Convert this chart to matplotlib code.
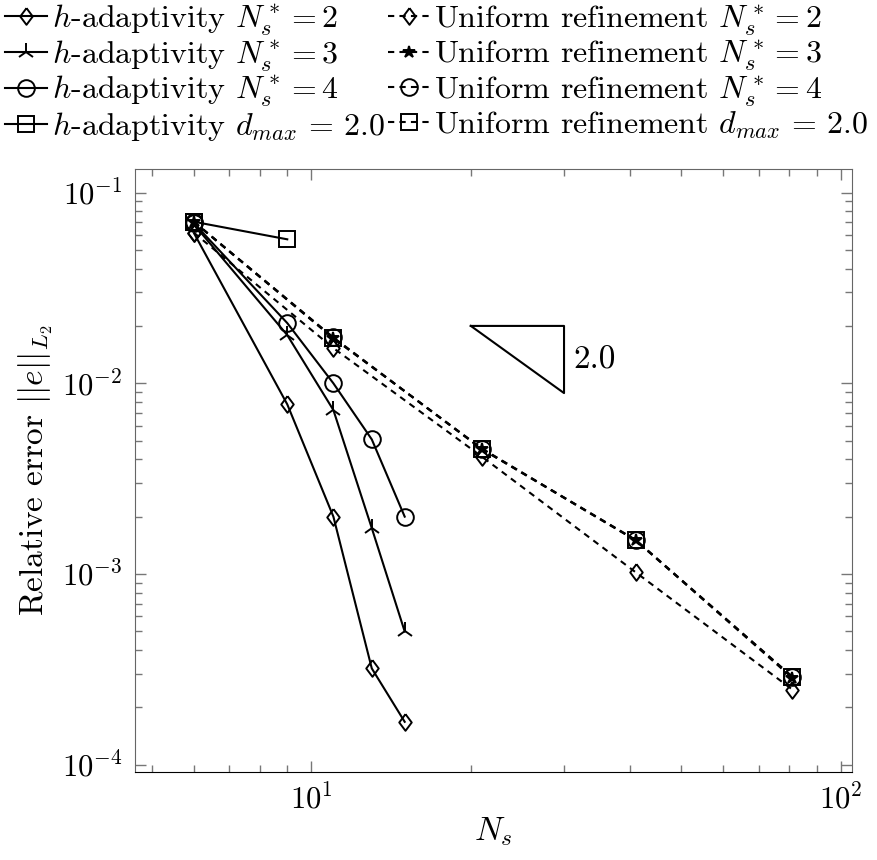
import matplotlib; matplotlib.use("Agg")
import matplotlib.pyplot as plt

plt.rcParams["font.family"] = "serif"
plt.rcParams["font.serif"] = ["cmr10"]
plt.rcParams["mathtext.fontset"] = "cm"
plt.rcParams["axes.formatter.use_mathtext"] = True

# h-adaptivity runs
ad_ns = {
    2: [6, 9, 11, 13, 15],
    3: [6, 9, 11, 13, 15],
    4: [6, 9, 11, 13, 15],
    "d": [6, 9],
}
ad_err = {
    2: [0.0612, 0.00776, 0.0020, 0.00032, 0.000168],
    3: [0.068, 0.0179, 0.00724, 0.00174, 0.0005],
    4: [0.069, 0.0207, 0.0100, 0.00508, 0.0020],
    "d": [0.0703, 0.0569],
}
# uniform refinement runs
un_ns = [6, 11, 21, 41, 81]
un_err = {
    2: [0.0615, 0.0153, 0.00412, 0.00102, 0.000248],
    3: [0.0700, 0.0172, 0.00455, 0.00150, 0.000285],
    4: [0.0702, 0.0174, 0.00452, 0.00151, 0.000288],
    "d": [0.0703, 0.0173, 0.00451, 0.00150, 0.00029],
}
keys = [2, 3, 4, "d"]
names = {2: r"$N_s^* = 2$", 3: r"$N_s^* = 3$", 4: r"$N_s^* = 4$",
         "d": r"$d_{max}\,=\,2.0$"}
DIAMOND = [(0, 1), (0.75, 0), (0, -1), (-0.75, 0), (0, 1)]
ad_mk = {2: "dia", 3: "2", 4: "o", "d": "s"}
un_mk = {2: "dia", 3: "*", 4: "o", "d": "s"}
ms = {"dia": 12, "2": 13, "o": 12, "s": 12, "*": 9}
FS = 22

fig = plt.figure(figsize=(8.77, 8.6), dpi=100)
ax = fig.add_axes([0.1539, 0.1027, 0.8176, 0.7008])

for k in keys:
    m = ad_mk[k]
    ax.plot(ad_ns[k], ad_err[k], "-", color="black", lw=1.5,
            marker=DIAMOND if m == "dia" else m, ms=ms[m],
            mfc="none", mec="black", mew=1.4, label=r"$h$-adaptivity " + names[k])
for k in keys:
    m = un_mk[k]
    ax.plot(un_ns, un_err[k], color="black", lw=1.5, ls=(0, (3, 2.5)),
            marker=DIAMOND if m == "dia" else m, ms=ms[m],
            mfc="black" if m == "*" else "none", mec="black", mew=1.4,
            label="Uniform refinement " + names[k])

# slope triangle
tx = [20, 30, 30, 20]
ty = [0.02, 0.02, 0.02 * (20 / 30) ** 2, 0.02]
ax.plot(tx, ty, color="black", lw=1.5)
ax.text(31.3, 0.0133, "2.0", fontsize=24, va="center", ha="left")

ax.set_xscale("log")
ax.set_yscale("log")
ax.set_xlim(4.64, 105)
ax.set_ylim(9.2e-5, 0.133)
ax.set_xlabel(r"$N_s$", fontsize=24, labelpad=0)
ax.set_ylabel(r"Relative error $||e||_{L_2}$", fontsize=24, labelpad=5)
ax.tick_params(which="both", direction="in", top=True, right=True, colors="#777777",
               labelcolor="black", labelsize=FS)
ax.tick_params(which="major", length=8, width=1, pad=9)
ax.tick_params(which="minor", length=5, width=1)
for s in ax.spines.values():
    s.set_color("#666666")
ax.spines["bottom"].set_color("black")

fig.legend(loc="upper left", bbox_to_anchor=(0.006, 0.997), ncol=2, frameon=False,
           fontsize=23, handlelength=1.3, handletextpad=0.15, columnspacing=0.1,
           labelspacing=0.02, borderaxespad=0.0, borderpad=0.0)

fig.savefig("out.png", dpi=100)
